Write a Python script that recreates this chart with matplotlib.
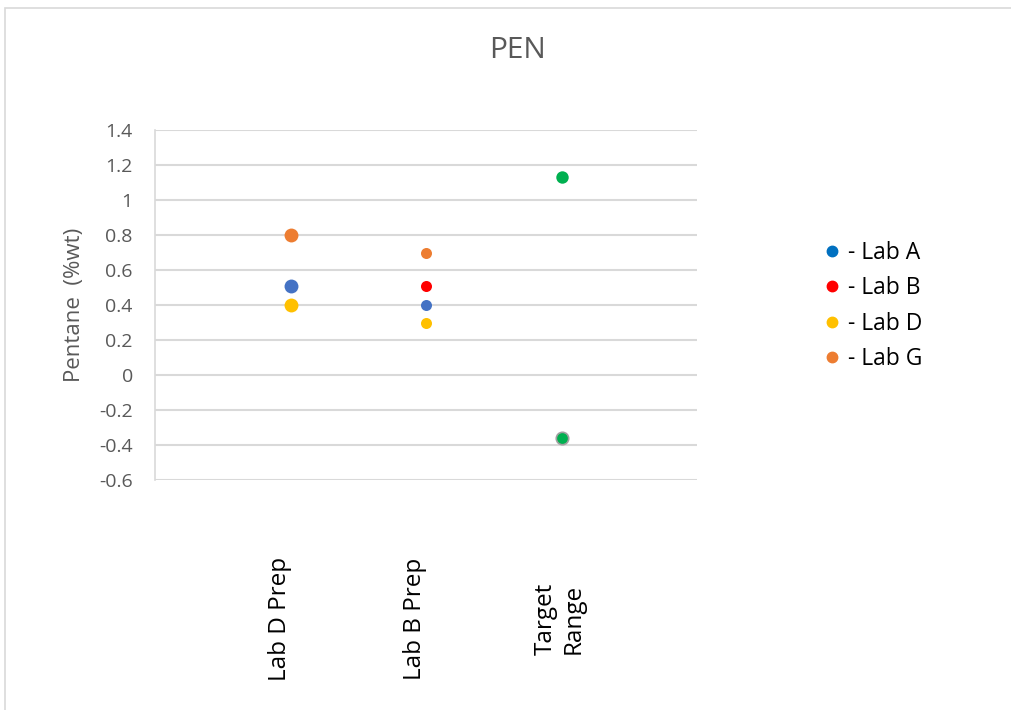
import matplotlib
matplotlib.use("Agg")
import matplotlib.pyplot as plt
import matplotlib.transforms as mtransforms
from matplotlib.lines import Line2D
from matplotlib.patches import Rectangle

plt.rcParams['font.family'] = ['Open Sans', 'DejaVu Sans']

categories = ["Lab D Prep", "Lab B Prep", "Target\nRange"]
lab_a = [0.51, 0.40]
lab_b = [None, 0.51]
lab_d = [0.40, 0.30]
lab_g = [0.80, 0.70]
target_range = [1.13, -0.36]

yticks = [1.4, 1.2, 1.0, 0.8, 0.6, 0.4, 0.2, 0.0, -0.2, -0.4, -0.6]
ytick_labels = ["1.4", "1.2", "1", "0.8", "0.6", "0.4", "0.2", "0", "-0.2", "-0.4", "-0.6"]

c_blue, c_blue_leg = "#4472C4", "#0070C0"
c_red, c_yellow, c_orange, c_green = "#FF0000", "#FFC000", "#ED7D31", "#00B050"
text_col = "#595959"
grid_col = "#d9d9d9"

W, H = 1011, 710
fig = plt.figure(figsize=(W / 100, H / 100), dpi=100)
fig.patches.append(Rectangle((5 / W, -0.1), 1.2, (H - 8) / H + 0.1, transform=fig.transFigure,
                             fill=False, edgecolor=grid_col, linewidth=1.2))

ax = fig.add_axes([155 / W, (H - 480) / H, 542 / W, 350 / H])
ax.set_xlim(0, 4)
ax.set_ylim(-0.6, 1.4)
for name, s in ax.spines.items():
    s.set_visible(name == "left")
ax.spines["left"].set_color(grid_col)
ax.spines["left"].set_linewidth(1.2)
ax.set_yticks(yticks)
ax.set_yticklabels(ytick_labels, fontsize=14, color=text_col)
ax.tick_params(axis="both", length=0, pad=16)
ax.set_xticks([])
ax.grid(axis="y", color=grid_col, linewidth=1.5)
ax.set_axisbelow(True)

x1, x2, x3 = 1, 2, 3
sizes = [100, 63]
for i, x in enumerate([x1, x2]):
    for vals, col in [(lab_g, c_orange), (lab_a, c_blue), (lab_b, c_red), (lab_d, c_yellow)]:
        if vals[i] is not None:
            ax.scatter([x], [vals[i]], s=sizes[i], color=col, zorder=3, linewidths=0)

ax.scatter([x3], [target_range[0]], s=80, color=c_green, zorder=3, linewidths=0)
ax.scatter([x3], [target_range[1]], s=80, color=c_green, zorder=3,
           edgecolors="#a0a0a0", linewidths=1.2)

# rotated category labels under the plot, centred on a fixed pixel row
label_row = mtransforms.blended_transform_factory(ax.transData, fig.transFigure)
for x, lab in zip([x1, x2, x3], categories):
    nlines = lab.count("\n") + 1
    shift = mtransforms.ScaledTranslation((-11 + 9 * (nlines - 1)) / 100, 0, fig.dpi_scale_trans)
    fig.text(x, 1 - 619 / H, lab, rotation=90, ha="center", va="center",
             fontsize=17.5, color="black", linespacing=1.2, multialignment="center",
             transform=label_row + shift)

ax.set_ylabel("Pentane  (%wt)", fontsize=16, color=text_col, labelpad=10)
fig.text(518 / W, 1 - 51 / H, "PEN", ha="center", va="center", fontsize=21.5, color=text_col)

handles = [Line2D([], [], marker="o", linestyle="", markersize=7.5, color=c)
           for c in [c_blue_leg, c_red, c_yellow, c_orange]]
fig.legend(handles, ["- Lab A", "- Lab B", "- Lab D", "- Lab G"], loc="upper left",
           bbox_to_anchor=(816 / W, 1 - 236.5 / H), frameon=False, fontsize=16.5,
           handletextpad=0.2, labelspacing=0.49, handlelength=1.0,
           borderaxespad=0, borderpad=0.2)

fig.savefig("out.png", dpi=100)
